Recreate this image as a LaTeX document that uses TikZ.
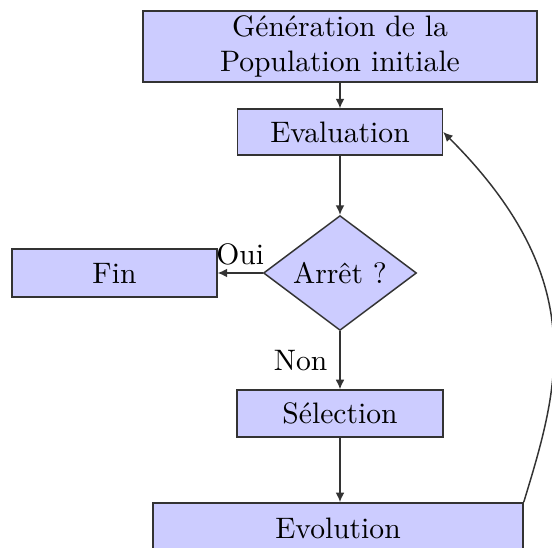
\documentclass[tikz,border=0pt]{standalone}
\usetikzlibrary{shapes.geometric,arrows.meta}
\begin{document}
\begin{tikzpicture}[x=0.3378pt,y=-0.3378pt,
  boxstyle/.style={draw=black!80,line width=0.5pt,fill=blue!20,rectangle,inner sep=0pt,align=center},
  diastyle/.style={draw=black!80,line width=0.5pt,fill=blue!20,diamond,inner sep=0pt,aspect=1.33},
  arrowstyle/.style={draw=black!80,line width=0.5pt,-{Latex[length=3.2pt,width=3pt]}}]
\useasboundingbox (0,0) rectangle (552,548);
\clip (0,0) rectangle (552,548);
\node[boxstyle,minimum width=133.1pt,minimum height=24pt] (gen) at (340,46.5) {G\'en\'eration de la\\Population initiale};
\node[boxstyle,minimum width=69.2pt,minimum height=15.5pt] (eval) at (340,132) {Evaluation};
\node[diastyle,minimum width=51.7pt,minimum height=38.8pt] (arret) at (340,273) {Arr\^et ?};
\node[boxstyle,minimum width=69.2pt,minimum height=16.2pt] (fin) at (114.5,273) {Fin};
\node[boxstyle,minimum width=69.6pt,minimum height=15.9pt] (sel) at (340,413.5) {S\'election};
\node[boxstyle,minimum width=125pt,minimum height=17pt] (evol) at (338,528) {Evolution};
\draw[arrowstyle] (gen) -- (eval);
\draw[arrowstyle] (eval) -- (arret);
\draw[arrowstyle] (arret.west) -- node[above,inner sep=2.5pt] (oui) {Oui} (fin.east);
\draw[arrowstyle] (arret.south) -- node[left,inner sep=4pt] (non) {Non} (sel.north);
\draw[arrowstyle] (sel.south) -- (sel.south |- evol.north);
\draw[arrowstyle] (evol.north east) .. controls +(35,-115) and +(148.5,148.5) .. (eval.east);
\end{tikzpicture}
\end{document}
